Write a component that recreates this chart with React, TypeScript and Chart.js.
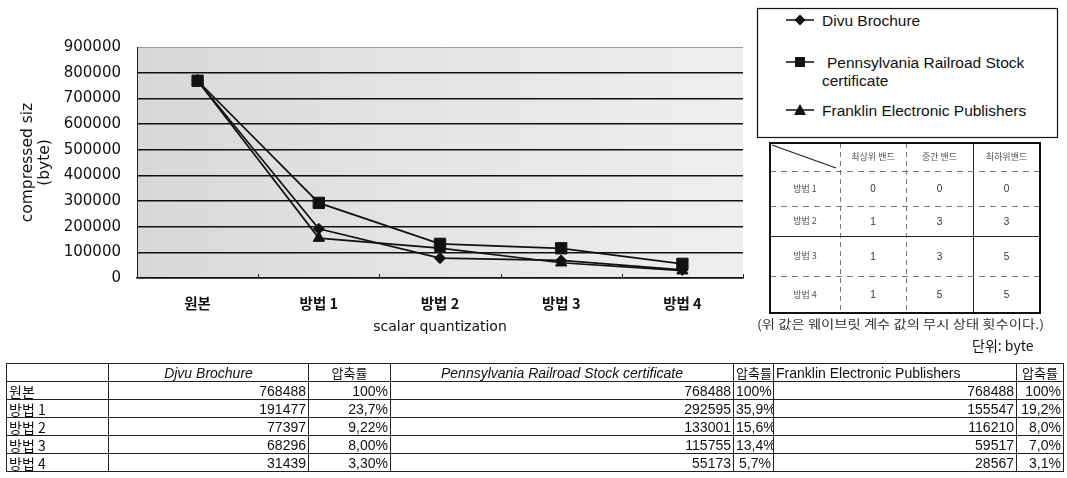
import React, { useEffect, useRef } from 'react';
import { Chart, registerables } from 'chart.js';

Chart.register(...registerables);

// Compression results (bytes) per quantization method
const categories = ['원본', '방법 1', '방법 2', '방법 3', '방법 4'];
const djvuBrochure = [768488, 191477, 77397, 68296, 31439];
const pennsylvaniaStock = [768488, 292595, 133001, 115755, 55173];
const franklinPublishers = [768488, 155547, 116210, 59517, 28567];

// Compression ratios as printed in the summary table
const djvuRatio = ['100%', '23,7%', '9,22%', '8,00%', '3,30%'];
const pennRatio = ['100%', '35,9%', '15,6%', '13,4%', '5,7%'];
const franklinRatio = ['100%', '19,2%', '8,0%', '7,0%', '3,1%'];

// Y axis range
const yMax = 900000;
const yStep = 100000;

// Band settings table
const bandHeaders = ['최상위 밴드', '중간 밴드', '최하위밴드'];
const bandRows = ['방법 1', '방법 2', '방법 3', '방법 4'];
const bandCounts = [
  [0, 0, 0],
  [1, 3, 3],
  [1, 3, 5],
  [1, 5, 5],
];

const seriesNames = ['Divu Brochure', 'Pennsylvania Railroad Stock certificate', 'Franklin Electronic Publishers'];

const plotBackground = {
  id: 'plotBackground',
  beforeDraw(chart: any) {
    const { ctx, chartArea: a } = chart;
    const g = ctx.createLinearGradient(a.left, 0, a.right, 0);
    g.addColorStop(0, '#d8d8d8');
    g.addColorStop(0.45, '#e4e4e4');
    g.addColorStop(1, '#efefef');
    ctx.save();
    ctx.fillStyle = g;
    ctx.fillRect(a.left, a.top, a.right - a.left, a.bottom - a.top);
    ctx.restore();
  },
};

const categoryMarks = {
  id: 'categoryMarks',
  afterDraw(chart: any) {
    const { ctx, chartArea: a } = chart;
    const n = chart.data.labels.length;
    const step = (a.right - a.left) / n;
    ctx.save();
    ctx.strokeStyle = '#222';
    ctx.lineWidth = 1;
    for (let k = 1; k <= n; k++) {
      const px = Math.round(a.left + k * step) + 0.5;
      ctx.beginPath();
      ctx.moveTo(px, a.bottom);
      ctx.lineTo(px, a.bottom - 4);
      ctx.stroke();
    }
    ctx.restore();
  },
};

function LineChart() {
  const ref = useRef<HTMLCanvasElement | null>(null);
  useEffect(() => {
    if (!ref.current) return;
    const common = {
      borderColor: '#111',
      backgroundColor: '#111',
      pointBackgroundColor: '#111',
      pointBorderColor: '#111',
      borderWidth: 1.7,
      pointBorderWidth: 1,
      tension: 0,
      fill: false,
    };
    const chart = new Chart(ref.current, {
      type: 'line',
      data: {
        labels: categories,
        datasets: [
          { ...common, label: seriesNames[0], data: djvuBrochure, pointStyle: 'rectRot', pointRadius: 5.5, order: 1 },
          { ...common, label: seriesNames[1], data: pennsylvaniaStock, pointStyle: 'rect', pointRadius: 8, order: 0 },
          { ...common, label: seriesNames[2], data: franklinPublishers, pointStyle: 'triangle', pointRadius: 6.5, order: 2 },
        ],
      },
      options: {
        animation: false,
        responsive: false,
        events: [],
        layout: { padding: { top: 47, right: 4, left: 0, bottom: 0 } },
        plugins: { legend: { display: false }, tooltip: { enabled: false } },
        scales: {
          x: {
            offset: true,
            grid: { display: false },
            border: { display: true, color: '#111', width: 1.5 },
            ticks: {
              color: '#111',
              padding: 9,
              font: { family: '"Noto Sans CJK KR", sans-serif', size: 14.5, weight: 'bold' },
            },
            title: {
              display: true,
              text: 'scalar quantization',
              color: '#111',
              padding: { top: 0, bottom: 10 },
              font: { family: '"DejaVu Sans", sans-serif', size: 14, lineHeight: 1.15 },
            },
            afterFit: (s: any) => { s.height = 67; },
          },
          y: {
            min: 0,
            max: yMax,
            ticks: {
              stepSize: yStep,
              padding: 16,
              color: '#111',
              font: { family: '"DejaVu Sans", sans-serif', size: 15 },
              callback: (v: any) => String(v),
            },
            grid: {
              drawTicks: false,
              color: (c: any) => (c.tick && c.tick.value === yMax ? '#9a9a9a' : '#111'),
              lineWidth: (c: any) => (c.tick && c.tick.value === yMax ? 1 : 1.5),
            },
            border: { color: '#222', width: 1 },
            title: {
              display: true,
              text: ['compressed siz', '(byte)'],
              color: '#111',
              padding: { top: 19, bottom: 0 },
              font: { family: '"DejaVu Sans", sans-serif', size: 15.5, lineHeight: 1.1 },
            },
            afterFit: (s: any) => { s.width = 137; },
          },
        },
      },
      plugins: [plotBackground, categoryMarks],
    } as any);
    return () => chart.destroy();
  }, []);
  return (
    <canvas
      ref={ref}
      width={752}
      height={345}
      style={{ position: 'absolute', left: 0, top: 0, width: 752, height: 345, display: 'block' }}
    />
  );
}

function Legend() {
  const sx = 800;
  const rows = [
    { y: 20, marker: 'diamond' },
    { y: 62, marker: 'square' },
    { y: 110, marker: 'triangle' },
  ];
  return (
    <svg width={1067} height={478} style={{ position: 'absolute', left: 0, top: 0, pointerEvents: 'none' }}>
      <rect x={757.5} y={8.5} width={300} height={129} fill="#fff" stroke="#111" strokeWidth={1.2} />
      {rows.map((r, i) => (
        <g key={i}>
          <line x1={786} y1={r.y} x2={814} y2={r.y} stroke="#111" strokeWidth={1.5} />
          {r.marker === 'diamond' && (
            <polygon points={`${sx},${r.y - 5.5} ${sx + 5.5},${r.y} ${sx},${r.y + 5.5} ${sx - 5.5},${r.y}`} fill="#111" />
          )}
          {r.marker === 'square' && <rect x={sx - 5} y={r.y - 5} width={10} height={10} fill="#111" />}
          {r.marker === 'triangle' && (
            <polygon points={`${sx},${r.y - 6} ${sx + 6},${r.y + 5} ${sx - 6},${r.y + 5}`} fill="#111" />
          )}
        </g>
      ))}
      <g fontFamily='"Liberation Sans", Arial, sans-serif' fontSize={15.5} fill="#111">
        <text x={822} y={25.5}>{seriesNames[0]}</text>
        <text x={827} y={68}>Pennsylvania Railroad Stock</text>
        <text x={822} y={86}>certificate</text>
        <text x={822} y={116}>{seriesNames[2]}</text>
      </g>
    </svg>
  );
}

function BandTable() {
  const colX = [770, 840, 906, 973, 1040];
  const rowY = [143, 171, 206, 236, 276, 313];
  const solidCols = [973];
  const solidRows = [236];
  const kr = '"Noto Sans CJK KR", sans-serif';
  return (
    <svg width={1067} height={478} style={{ position: 'absolute', left: 0, top: 0, pointerEvents: 'none' }}>
      {colX.slice(1, -1).map((x) => (
        <line
          key={'c' + x}
          x1={x + 0.5} y1={rowY[0]} x2={x + 0.5} y2={rowY[rowY.length - 1]}
          stroke={solidCols.includes(x) ? '#222' : '#777'}
          strokeWidth={1}
          strokeDasharray={solidCols.includes(x) ? undefined : '5 4'}
        />
      ))}
      {rowY.slice(1, -1).map((y) => (
        <line
          key={'r' + y}
          x1={colX[0]} y1={y + 0.5} x2={colX[colX.length - 1]} y2={y + 0.5}
          stroke={solidRows.includes(y) ? '#222' : '#777'}
          strokeWidth={1}
          strokeDasharray={solidRows.includes(y) ? undefined : '6 5'}
        />
      ))}
      <rect x={770} y={143} width={270} height={170} fill="none" stroke="#111" strokeWidth={2} />
      <line x1={772} y1={145} x2={836} y2={168} stroke="#222" strokeWidth={1.2} />
      <g fontFamily={kr} fontSize={9} fill="#555" textAnchor="middle">
        {bandHeaders.map((h, i) => (
          <text key={h} x={(colX[i + 1] + colX[i + 2]) / 2} y={160}>{h}</text>
        ))}
        {bandRows.map((r, j) => (
          <text key={r} x={(colX[0] + colX[1]) / 2} y={(rowY[j + 1] + rowY[j + 2]) / 2 + 3}>{r}</text>
        ))}
      </g>
      <g fontFamily='"Liberation Sans", Arial, sans-serif' fontSize={10} fill="#333" textAnchor="middle">
        {bandCounts.map((row, j) =>
          row.map((v, i) => (
            <text key={j + '-' + i} x={(colX[i + 1] + colX[i + 2]) / 2} y={(rowY[j + 1] + rowY[j + 2]) / 2 + 3.5}>
              {v}
            </text>
          ))
        )}
      </g>
      <text x={757} y={329} fontFamily={kr} fontSize={12} fill="#333" textLength={287} lengthAdjust="spacingAndGlyphs">
        (위 값은 웨이브릿 계수 값의 무시 상태 횟수이다.)
      </text>
      <text x={972} y={351} fontFamily={kr} fontSize={14} fill="#111">단위: byte</text>
    </svg>
  );
}

function SummaryTable() {
  const widths = [102, 200, 82, 343, 40, 243, 47];
  const cell: React.CSSProperties = {
    border: '1px solid #222',
    padding: '0 2px',
    height: 17,
    lineHeight: '16px',
    whiteSpace: 'nowrap',
    overflow: 'hidden',
  };
  const kr = '"Noto Sans CJK KR", sans-serif';
  return (
    <table
      style={{
        position: 'absolute',
        left: 6,
        top: 363,
        borderCollapse: 'collapse',
        tableLayout: 'fixed',
        width: widths.reduce((a, b) => a + b, 0),
        fontFamily: '"Liberation Sans", Arial, sans-serif',
        fontSize: 14,
        color: '#111',
      }}
    >
      <colgroup>
        {widths.map((w, i) => (
          <col key={i} style={{ width: w }} />
        ))}
      </colgroup>
      <tbody>
        <tr>
          <td style={cell}></td>
          <td style={{ ...cell, textAlign: 'center', fontStyle: 'italic' }}>Djvu Brochure</td>
          <td style={{ ...cell, textAlign: 'center', fontFamily: kr, fontSize: 13 }}>압축률</td>
          <td style={{ ...cell, textAlign: 'center', fontStyle: 'italic' }}>{seriesNames[1]}</td>
          <td style={{ ...cell, textAlign: 'center', fontFamily: kr, fontSize: 13 }}>압축률</td>
          <td style={{ ...cell, textAlign: 'left' }}>{seriesNames[2]}</td>
          <td style={{ ...cell, textAlign: 'center', fontFamily: kr, fontSize: 13 }}>압축률</td>
        </tr>
        {categories.map((c, i) => (
          <tr key={c}>
            <td style={{ ...cell, fontFamily: kr, fontSize: 14 }}>{c}</td>
            <td style={{ ...cell, textAlign: 'right' }}>{djvuBrochure[i]}</td>
            <td style={{ ...cell, textAlign: 'right' }}>{djvuRatio[i]}</td>
            <td style={{ ...cell, textAlign: 'right' }}>{pennsylvaniaStock[i]}</td>
            <td style={{ ...cell, textAlign: 'right' }}>{pennRatio[i]}</td>
            <td style={{ ...cell, textAlign: 'right' }}>{franklinPublishers[i]}</td>
            <td style={{ ...cell, textAlign: 'right' }}>{franklinRatio[i]}</td>
          </tr>
        ))}
      </tbody>
    </table>
  );
}

export default function App() {
  return (
    <div style={{ position: 'absolute', left: 0, top: 0, width: 1067, height: 478, background: '#fff', overflow: 'hidden' }}>
      <LineChart />
      <Legend />
      <BandTable />
      <SummaryTable />
    </div>
  );
}
